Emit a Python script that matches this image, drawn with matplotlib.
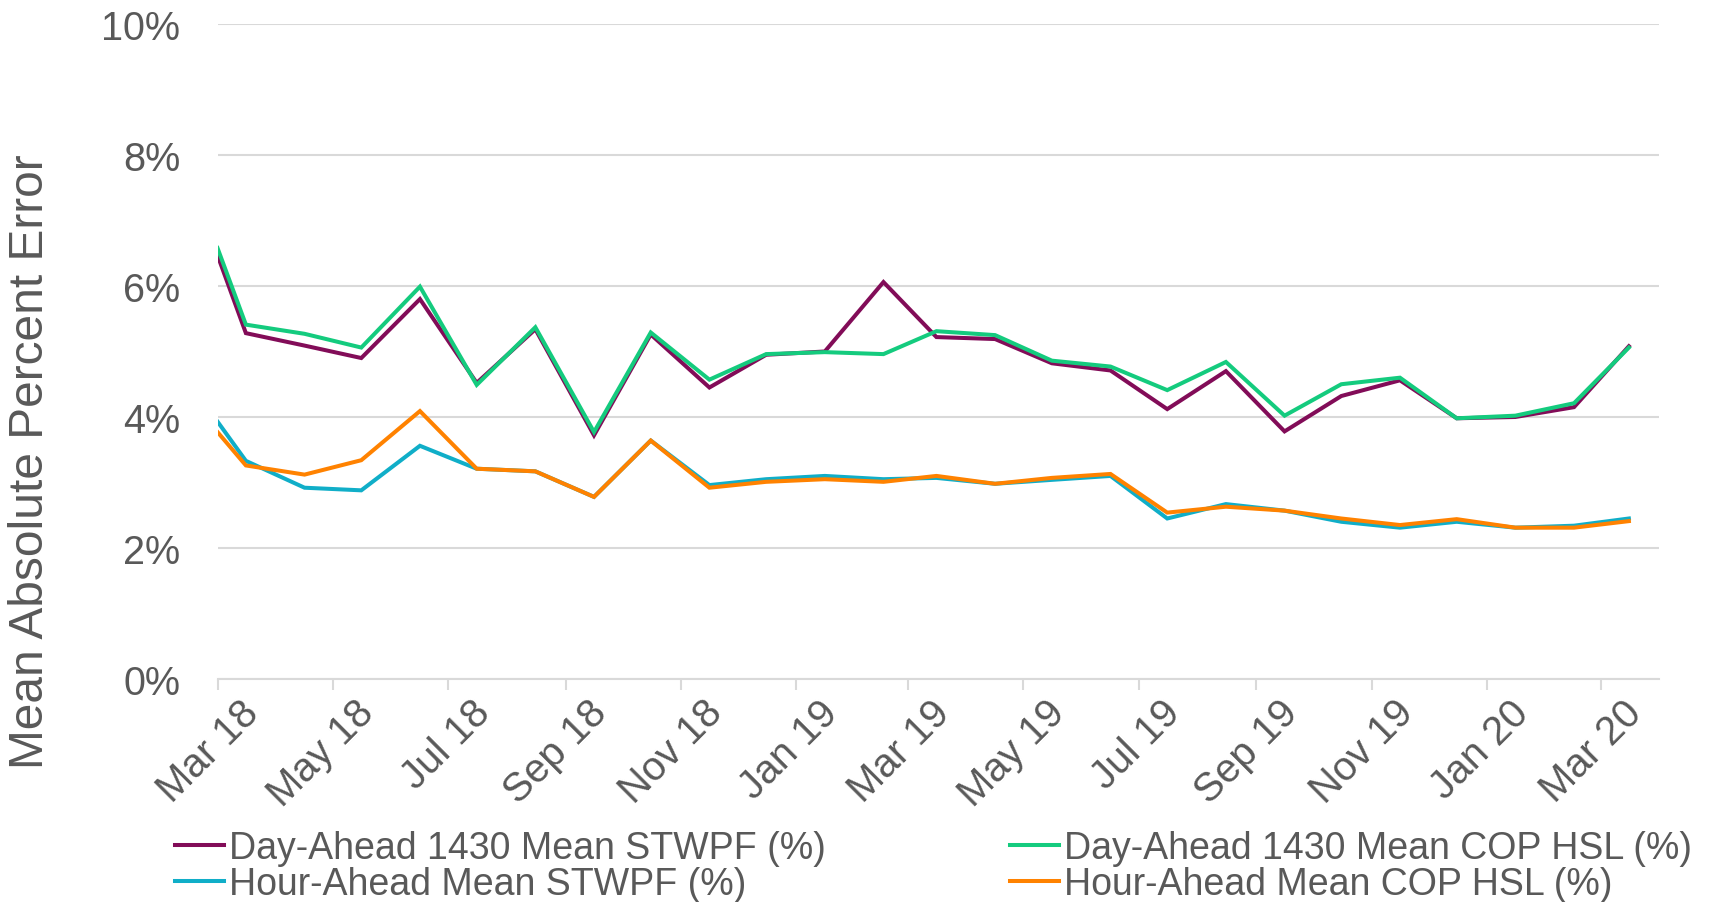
import matplotlib
matplotlib.use("Agg")
import matplotlib.pyplot as plt
import matplotlib.dates as mdates
import matplotlib.transforms as mtransforms
from matplotlib.ticker import FuncFormatter, MultipleLocator
import pandas as pd

plt.rcParams['font.family'] = ['Liberation Sans', 'DejaVu Sans']

dates = ["2018-03-01"] + [f"{y}-{m:02d}-16" for y, m in
         [(2018, mm) for mm in range(3, 13)] + [(2019, mm) for mm in range(1, 13)] + [(2020, mm) for mm in range(1, 4)]]

da_stwpf = [6.47, 5.28, 5.09, 4.90, 5.80, 4.52, 5.34, 3.72, 5.26, 4.45, 4.95, 5.00, 6.06,
            5.22, 5.19, 4.82, 4.71, 4.12, 4.70, 3.78, 4.32, 4.56, 3.98, 4.00, 4.15, 5.08]
da_cop = [6.58, 5.41, 5.27, 5.06, 5.99, 4.49, 5.37, 3.77, 5.29, 4.57, 4.96, 4.99, 4.96,
          5.31, 5.25, 4.86, 4.77, 4.41, 4.84, 4.02, 4.50, 4.60, 3.98, 4.02, 4.21, 5.06]
ha_stwpf = [3.93, 3.33, 2.92, 2.88, 3.56, 3.21, 3.17, 2.78, 3.64, 2.96, 3.05, 3.10, 3.05,
            3.07, 2.98, 3.04, 3.10, 2.45, 2.67, 2.57, 2.40, 2.31, 2.40, 2.31, 2.34, 2.45]
ha_cop = [3.77, 3.26, 3.12, 3.34, 4.09, 3.21, 3.17, 2.78, 3.64, 2.92, 3.01, 3.05, 3.01,
          3.10, 2.98, 3.07, 3.13, 2.54, 2.63, 2.57, 2.45, 2.35, 2.44, 2.31, 2.31, 2.41]

labels = ["Day-Ahead 1430 Mean STWPF (%)", "Hour-Ahead Mean STWPF (%)",
          "Day-Ahead 1430 Mean COP HSL (%)", "Hour-Ahead Mean COP HSL (%)"]
colors = ["#820C58", "#10AEC8", "#14CB7E", "#FF8200"]

x = pd.to_datetime(dates)
text_color = "#595959"
grid_color = "#D9D9D9"

fig = plt.figure(figsize=(17.14, 9.03), dpi=100)
ax = fig.add_axes([0.1269, 0.247, 0.9680 - 0.1269, 0.9723 - 0.247])

series = [da_stwpf, ha_stwpf, da_cop, ha_cop]
handles = []
for vals, lab, col in zip(series, labels, colors):
    h, = ax.plot(x, vals, color=col, lw=2.9, label=lab, solid_joinstyle='miter')
    handles.append(h)

ax.set_ylim(0, 10)
ax.yaxis.set_major_locator(MultipleLocator(2))
ax.yaxis.set_major_formatter(FuncFormatter(lambda v, p: f"{v:.0f}%"))
ax.set_xlim(pd.Timestamp("2018-03-01"), pd.Timestamp("2020-04-01"))
ax.xaxis.set_major_locator(mdates.MonthLocator(bymonth=[1, 3, 5, 7, 9, 11]))
ax.xaxis.set_major_formatter(mdates.DateFormatter("%b %y"))

ax.grid(axis='y', color=grid_color, lw=1.5)
ax.set_axisbelow(True)
for s in ['top', 'right', 'left']:
    ax.spines[s].set_visible(False)
ax.spines['bottom'].set_color(grid_color)
ax.spines['bottom'].set_linewidth(1.5)
ax.tick_params(axis='y', length=0, pad=27, labelsize=28.5, labelcolor=text_color)
ax.tick_params(axis='x', length=8, width=1.5, color=grid_color, direction='out',
               labelsize=29, labelcolor=text_color, pad=2)

offset = mtransforms.ScaledTranslation(22 / 100, 0 / 100, fig.dpi_scale_trans)
for lbl in ax.get_xticklabels():
    lbl.set_rotation(45)
    lbl.set_ha('right')
    lbl.set_va('top')
    lbl.set_rotation_mode('anchor')
    lbl.set_transform(lbl.get_transform() + offset)

fig.text(31 / 1714, 1 - 462 / 903, "Mean Absolute Percent Error", rotation=90,
         ha='center', va='center', fontsize=34.5, color=text_color)

leg = fig.legend(handles=handles, labels=labels, ncol=2, loc='upper left',
                 bbox_to_anchor=(0.102, 0.080), frameon=False, fontsize=27,
                 handlelength=1.3, handletextpad=0.15, columnspacing=4.9,
                 labelspacing=0.0, borderpad=0, borderaxespad=0)
for t in leg.get_texts():
    t.set_color(text_color)

fig.savefig("out.png", dpi=100)
